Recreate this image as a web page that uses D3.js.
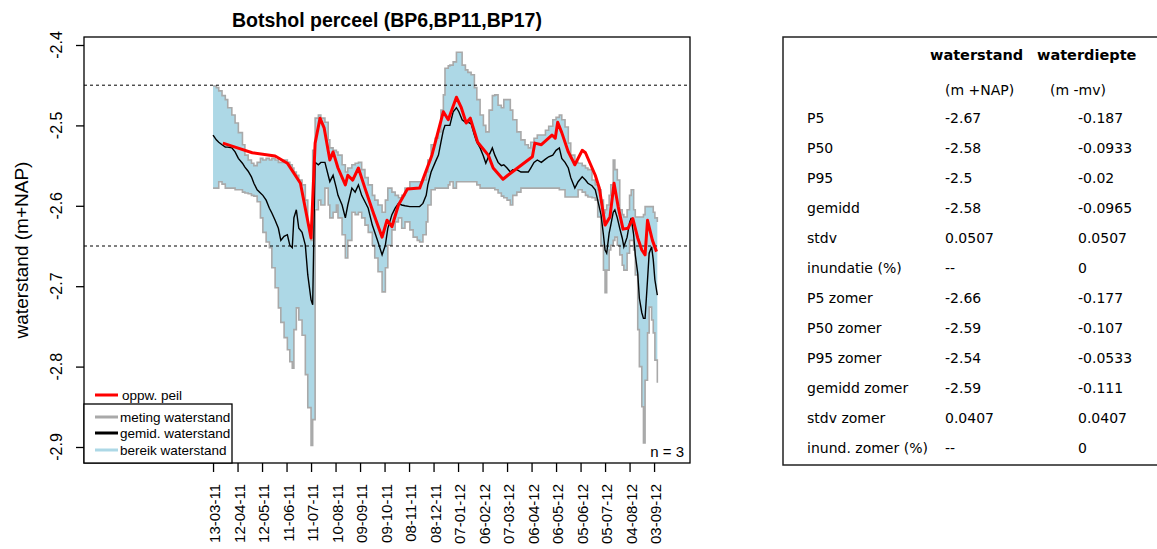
<!DOCTYPE html>
<html><head><meta charset="utf-8">
<script src="https://cdn.jsdelivr.net/npm/d3@7"></script>
<style>html,body{margin:0;padding:0;background:#fff;}svg{display:block;}</style>
</head><body>
<svg id="chart" width="1157" height="549"></svg>
<script>
// ---------- DATA ----------
const title = "Botshol perceel (BP6,BP11,BP17)";
const yLabel = "waterstand (m+NAP)";
const startDate = "13-03-11";            // day 0 of the series
const xTickLabels = ["13-03-11","12-04-11","12-05-11","11-06-11","11-07-11","10-08-11","09-09-11","09-10-11","08-11-11","08-12-11","07-01-12","06-02-12","07-03-12","06-04-12","06-05-12","05-06-12","05-07-12","04-08-12","03-09-12"];
const yTicks = [-2.4,-2.5,-2.6,-2.7,-2.8,-2.9];
const yTickLabels = ["-2.4","-2.5","-2.6","-2.7","-2.8","-2.9"];
const refLevels = [-2.45,-2.65];

// days since startDate
const bandDays = [0,4,7,11,15,18,23,27,31,36,39,43,47,50,54,58,61,65,69,72,76,80,83,87,91,94,97,99,102,105,109,113,116,120,122,125,129,132,137,141,143,147,151,153,158,162,165,170,174,178,182,186,190,195,198,202,207,211,214,219,223,227,231,235,241,245,250,253,257,261,263,267,272,276,279,282,284,288,290,294,298,301,305,309,312,316,320,323,327,331,334,338,342,345,349,353,356,360,364,367,372,377,382,386,389,393,397,402,407,411,416,420,424,427,431,435,438,443,447,452,456,459,464,468,471,475,478,480,482,485,487,490,492,495,498,501,503,507,510,512,515,517,520,522,525,527,529,532,534,537,539,541,544];
const bandUpper = [-2.451,-2.453,-2.457,-2.463,-2.468,-2.478,-2.487,-2.497,-2.509,-2.524,-2.537,-2.543,-2.547,-2.550,-2.546,-2.541,-2.543,-2.541,-2.543,-2.541,-2.543,-2.546,-2.546,-2.543,-2.546,-2.549,-2.553,-2.558,-2.562,-2.568,-2.574,-2.593,-2.624,-2.643,-2.531,-2.491,-2.487,-2.491,-2.496,-2.518,-2.528,-2.531,-2.533,-2.537,-2.549,-2.558,-2.553,-2.549,-2.547,-2.546,-2.555,-2.565,-2.574,-2.587,-2.593,-2.599,-2.608,-2.593,-2.578,-2.583,-2.587,-2.590,-2.587,-2.578,-2.570,-2.570,-2.570,-2.570,-2.568,-2.558,-2.543,-2.524,-2.516,-2.508,-2.481,-2.462,-2.429,-2.426,-2.425,-2.421,-2.409,-2.409,-2.425,-2.431,-2.434,-2.437,-2.453,-2.468,-2.487,-2.500,-2.508,-2.481,-2.463,-2.462,-2.475,-2.478,-2.468,-2.468,-2.481,-2.493,-2.508,-2.518,-2.524,-2.528,-2.521,-2.516,-2.512,-2.512,-2.506,-2.501,-2.493,-2.490,-2.487,-2.493,-2.502,-2.522,-2.537,-2.546,-2.547,-2.550,-2.553,-2.555,-2.568,-2.574,-2.580,-2.593,-2.609,-2.605,-2.599,-2.587,-2.574,-2.543,-2.555,-2.568,-2.605,-2.611,-2.614,-2.605,-2.587,-2.580,-2.605,-2.614,-2.614,-2.614,-2.614,-2.611,-2.601,-2.601,-2.601,-2.601,-2.608,-2.615,-2.620];
const bandLower = [-2.578,-2.578,-2.570,-2.573,-2.578,-2.578,-2.578,-2.580,-2.580,-2.583,-2.584,-2.585,-2.587,-2.588,-2.595,-2.615,-2.633,-2.645,-2.652,-2.677,-2.702,-2.727,-2.745,-2.764,-2.779,-2.794,-2.802,-2.754,-2.727,-2.742,-2.761,-2.810,-2.851,-2.898,-2.866,-2.605,-2.593,-2.599,-2.578,-2.599,-2.615,-2.608,-2.599,-2.615,-2.636,-2.665,-2.643,-2.608,-2.611,-2.608,-2.615,-2.624,-2.633,-2.649,-2.665,-2.682,-2.707,-2.677,-2.649,-2.630,-2.620,-2.615,-2.628,-2.620,-2.630,-2.639,-2.643,-2.645,-2.636,-2.620,-2.599,-2.580,-2.578,-2.578,-2.578,-2.578,-2.578,-2.574,-2.570,-2.578,-2.570,-2.570,-2.570,-2.570,-2.570,-2.570,-2.570,-2.574,-2.578,-2.578,-2.578,-2.578,-2.578,-2.580,-2.584,-2.588,-2.590,-2.593,-2.599,-2.587,-2.583,-2.578,-2.578,-2.578,-2.578,-2.578,-2.578,-2.578,-2.578,-2.578,-2.578,-2.578,-2.580,-2.580,-2.589,-2.589,-2.589,-2.589,-2.580,-2.583,-2.587,-2.589,-2.590,-2.593,-2.614,-2.649,-2.680,-2.708,-2.680,-2.655,-2.649,-2.643,-2.639,-2.649,-2.661,-2.674,-2.680,-2.659,-2.643,-2.643,-2.655,-2.686,-2.754,-2.800,-2.850,-2.895,-2.817,-2.758,-2.726,-2.742,-2.758,-2.792,-2.820];
const meanLevel = [-2.512,-2.518,-2.521,-2.524,-2.527,-2.527,-2.528,-2.533,-2.541,-2.547,-2.552,-2.557,-2.564,-2.572,-2.580,-2.584,-2.587,-2.593,-2.603,-2.609,-2.618,-2.628,-2.643,-2.638,-2.636,-2.649,-2.652,-2.615,-2.605,-2.628,-2.633,-2.649,-2.686,-2.717,-2.723,-2.546,-2.549,-2.546,-2.546,-2.562,-2.570,-2.562,-2.578,-2.587,-2.599,-2.615,-2.599,-2.578,-2.583,-2.574,-2.587,-2.595,-2.603,-2.624,-2.633,-2.645,-2.661,-2.649,-2.628,-2.611,-2.603,-2.597,-2.599,-2.600,-2.601,-2.601,-2.601,-2.601,-2.597,-2.587,-2.574,-2.558,-2.546,-2.537,-2.521,-2.506,-2.500,-2.500,-2.500,-2.483,-2.478,-2.483,-2.493,-2.496,-2.496,-2.498,-2.512,-2.521,-2.528,-2.538,-2.547,-2.537,-2.528,-2.537,-2.546,-2.550,-2.549,-2.553,-2.558,-2.555,-2.555,-2.558,-2.558,-2.558,-2.553,-2.546,-2.543,-2.546,-2.542,-2.539,-2.537,-2.531,-2.528,-2.541,-2.546,-2.553,-2.565,-2.578,-2.570,-2.564,-2.568,-2.572,-2.575,-2.580,-2.593,-2.611,-2.636,-2.655,-2.659,-2.634,-2.624,-2.608,-2.605,-2.615,-2.628,-2.640,-2.651,-2.639,-2.621,-2.615,-2.636,-2.661,-2.684,-2.715,-2.733,-2.740,-2.740,-2.692,-2.659,-2.651,-2.667,-2.692,-2.711];

const peilDays = [12,27,48,76,91,107,120,125,131,136,143,147,153,162,165,171,178,186,196,207,213,219,227,238,253,268,282,288,298,304,310,315,324,337,343,355,361,391,394,402,415,419,422,427,435,443,452,456,468,473,480,486,491,496,502,508,514,520,525,529,532,538,543];
const peilLevel = [-2.522,-2.527,-2.534,-2.538,-2.547,-2.572,-2.640,-2.522,-2.491,-2.503,-2.543,-2.533,-2.553,-2.574,-2.562,-2.568,-2.553,-2.578,-2.608,-2.639,-2.618,-2.626,-2.599,-2.579,-2.578,-2.537,-2.483,-2.493,-2.465,-2.478,-2.497,-2.491,-2.521,-2.537,-2.553,-2.567,-2.562,-2.539,-2.522,-2.524,-2.512,-2.516,-2.496,-2.509,-2.533,-2.549,-2.531,-2.534,-2.562,-2.578,-2.624,-2.614,-2.572,-2.601,-2.629,-2.628,-2.616,-2.640,-2.655,-2.661,-2.618,-2.643,-2.657];

const legendTop = ["oppw. peil"];
const legendBox = ["meting waterstand","gemid. waterstand","bereik waterstand"];
const nLabel = "n = 3";

const tableHeader = ["waterstand","waterdiepte"];
const tableUnits = ["(m +NAP)","(m -mv)"];
const tableLabels = ["P5","P50","P95","gemidd","stdv","inundatie (%)","P5 zomer","P50 zomer","P95 zomer","gemidd zomer","stdv zomer","inund. zomer (%)"];
const colWaterstand = ["-2.67","-2.58","-2.5","-2.58","0.0507","--","-2.66","-2.59","-2.54","-2.59","0.0407","--"];
const colWaterdiepte = ["-0.187","-0.0933","-0.02","-0.0965","0.0507","0","-0.177","-0.107","-0.0533","-0.111","0.0407","0"];

// ---------- DRAW ----------
const svg = d3.select("#chart");
const parse = d3.timeParse("%d-%m-%y");
const t0 = parse(startDate);
const day = d => d3.timeDay.offset(t0, d);

const L = 84, R = 690, T = 37, B = 463;
const x = d3.scaleTime().domain([day(-158), day(584)]).range([L, R]);
const y = d3.scaleLinear().domain([-2.9199, -2.39005]).range([B, T]);

const BLUE = "#add8e6", GRAY = "#a9a9a9", RED = "#ff0000";
const band = bandDays.map((d,i)=>({d, u:bandUpper[i], l:bandLower[i], m:meanLevel[i]}));

const g = svg.append("g");
// band fill
g.append("path").datum(band)
  .attr("fill", BLUE)
  .attr("d", d3.area().x(p=>x(day(p.d))).y0(p=>y(p.l)).y1(p=>y(p.u)).curve(d3.curveStepAfter));
// gray measurement outlines
["u","l"].forEach(k=>{
  g.append("path").datum(band).attr("fill","none").attr("stroke",GRAY).attr("stroke-width",1.6)
   .attr("d", d3.line().x(p=>x(day(p.d))).y(p=>y(p[k])).curve(d3.curveStepAfter));
});
// reference dotted lines
g.selectAll("line.ref").data(refLevels).join("line")
  .attr("x1",L).attr("x2",R).attr("y1",d=>y(d)).attr("y2",d=>y(d))
  .attr("stroke","#000").attr("stroke-width",1).attr("stroke-dasharray","3,3");
// mean line
g.append("path").datum(band).attr("fill","none").attr("stroke","#000").attr("stroke-width",1.4)
  .attr("d", d3.line().x(p=>x(day(p.d))).y(p=>y(p.m)));
// peil line
g.append("path").datum(peilDays.map((d,i)=>({d, v:peilLevel[i]})))
  .attr("fill","none").attr("stroke",RED).attr("stroke-width",3).attr("stroke-linejoin","round")
  .attr("d", d3.line().x(p=>x(day(p.d))).y(p=>y(p.v)));

// plot box
svg.append("rect").attr("x",L).attr("y",T).attr("width",R-L).attr("height",B-T)
  .attr("fill","none").attr("stroke","#000").attr("stroke-width",1.3);

// y axis
const ya = svg.append("g").attr("transform",`translate(${L},0)`)
  .call(d3.axisLeft(y).tickValues(yTicks).tickSize(8).tickFormat(""));
ya.select(".domain").remove();
ya.selectAll("line").attr("stroke","#000").attr("stroke-width",1.3);
svg.selectAll("text.ytl").data(yTicks).join("text")
  .attr("transform",(d)=>`translate(62,${y(d)}) rotate(-90)`)
  .attr("text-anchor","middle").attr("font-family","Liberation Sans, Arial, sans-serif")
  .attr("font-size",16).text((d,i)=>yTickLabels[i]);

// x axis
const xTickDates = xTickLabels.map(s=>parse(s));
const xa = svg.append("g").attr("transform",`translate(0,${B})`)
  .call(d3.axisBottom(x).tickValues(xTickDates).tickSize(9).tickFormat(""));
xa.select(".domain").remove();
xa.selectAll("line").attr("stroke","#000").attr("stroke-width",1.3);
svg.selectAll("text.xtl").data(xTickDates).join("text")
  .attr("transform",d=>`translate(${x(d)+7},484) rotate(-90)`)
  .attr("text-anchor","end").attr("font-family","Liberation Sans, Arial, sans-serif")
  .attr("font-size",15).text((d,i)=>xTickLabels[i]);

// title & y label
svg.append("text").attr("x",(L+R)/2).attr("y",27).attr("text-anchor","middle")
  .attr("font-family","Liberation Sans, Arial, sans-serif").attr("font-weight","bold")
  .attr("font-size",19.5).text(title);
svg.append("text").attr("transform",`translate(28,${(T+B)/2}) rotate(-90)`)
  .attr("text-anchor","middle").attr("font-family","Liberation Sans, Arial, sans-serif")
  .attr("font-size",19).text(yLabel);

// legend
const lf = "Liberation Sans, Arial, sans-serif";
svg.append("line").attr("x1",95).attr("x2",118).attr("y1",395).attr("y2",395).attr("stroke",RED).attr("stroke-width",3);
svg.append("text").attr("x",122).attr("y",400).attr("font-family",lf).attr("font-size",13.5).text(legendTop[0]);
svg.append("rect").attr("x",L).attr("y",404).attr("width",148).attr("height",B-404)
  .attr("fill","#fff").attr("stroke","#000").attr("stroke-width",1.3);
const legCols = [GRAY,"#000",BLUE];
const legY = [417,433,450];
legendBox.forEach((s,i)=>{
  svg.append("line").attr("x1",95).attr("x2",118).attr("y1",legY[i]).attr("y2",legY[i]).attr("stroke",legCols[i]).attr("stroke-width",3);
  svg.append("text").attr("x",120).attr("y",legY[i]+5).attr("font-family",lf).attr("font-size",13.5).text(s);
});
svg.append("text").attr("x",684).attr("y",457).attr("text-anchor","end").attr("font-family",lf).attr("font-size",15).text(nLabel);

// table
const tf = "DejaVu Sans, Verdana, sans-serif";
svg.append("rect").attr("x",783).attr("y",37).attr("width",400).attr("height",428)
  .attr("fill","#fff").attr("stroke","#222").attr("stroke-width",1.5);
const hx = [930,1037], ux = [945,1050];
tableHeader.forEach((s,i)=>svg.append("text").attr("x",hx[i]).attr("y",60).attr("font-family",tf)
  .attr("font-weight","bold").attr("font-size",14.5).text(s));
tableUnits.forEach((s,i)=>svg.append("text").attr("x",ux[i]).attr("y",95).attr("font-family",tf)
  .attr("font-size",14).text(s));
tableLabels.forEach((s,i)=>{
  const yy = 123 + i*30;
  svg.append("text").attr("x",807).attr("y",yy).attr("font-family",tf).attr("font-size",14).text(s);
  svg.append("text").attr("x",945).attr("y",yy).attr("font-family",tf).attr("font-size",14).text(colWaterstand[i]);
  svg.append("text").attr("x",1078).attr("y",yy).attr("font-family",tf).attr("font-size",14).text(colWaterdiepte[i]);
});
</script>
</body></html>
